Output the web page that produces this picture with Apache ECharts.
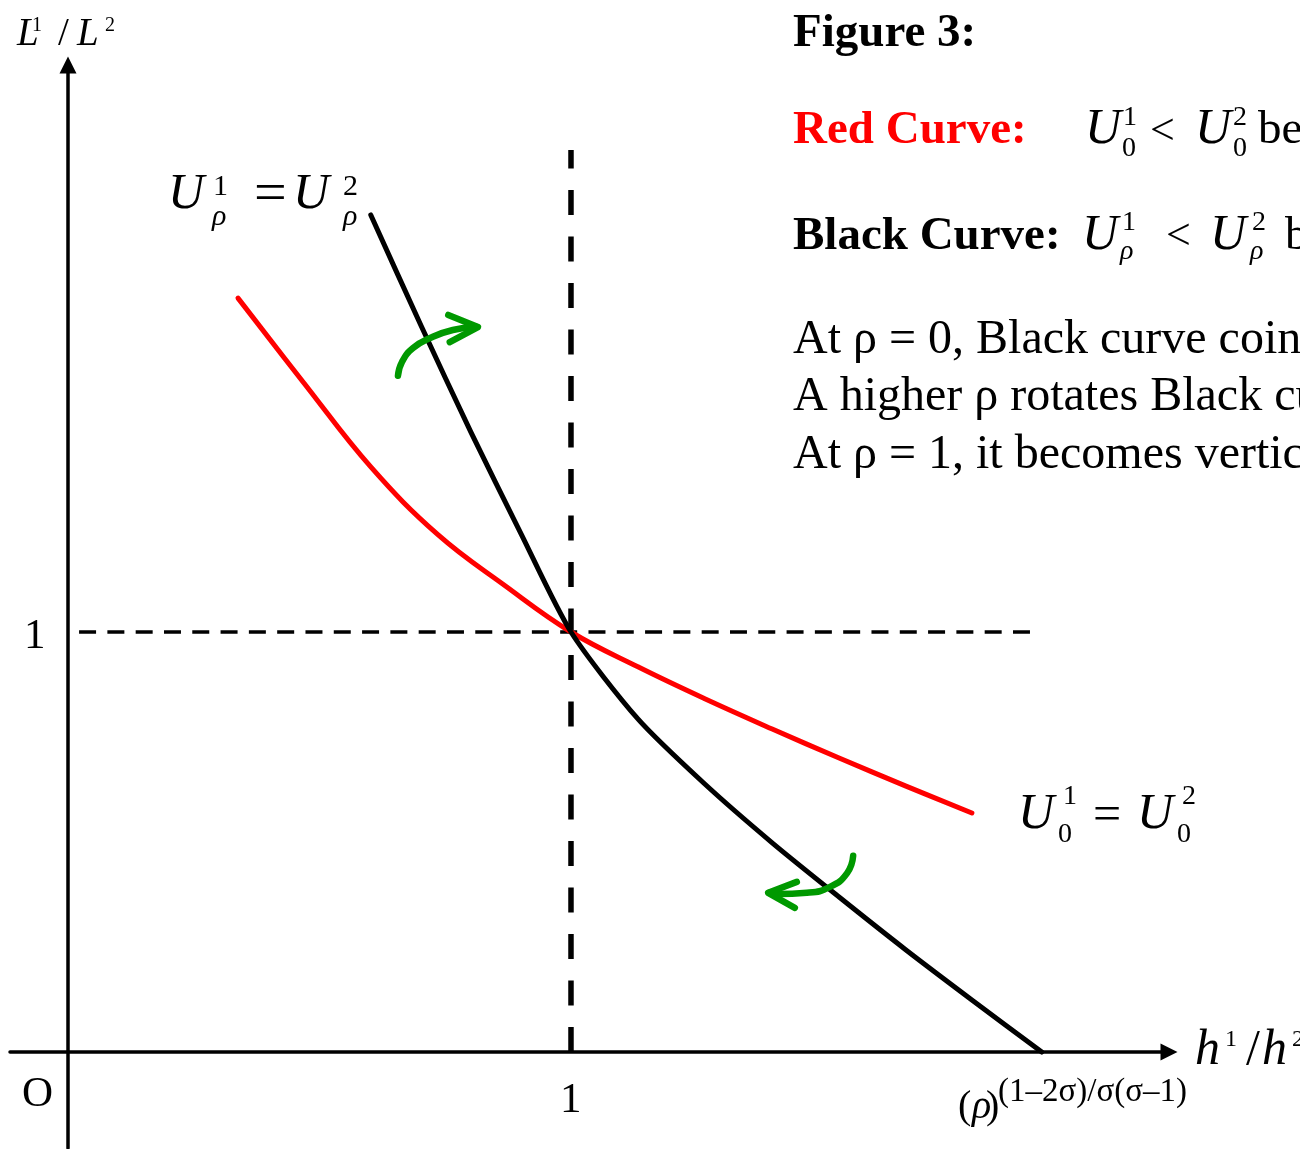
<!DOCTYPE html>
<html>
<head>
<meta charset="utf-8">
<script src="https://cdn.jsdelivr.net/npm/echarts@6/dist/echarts.min.js"></script>
<style>
  html, body { margin: 0; padding: 0; background: #fff; }
  #main { width: 1300px; height: 1149px; }
</style>
</head>
<body>
<div id="main"></div>
<script>
// Indifference loci in the (h1/h2, L1/L2) plane.
// Black: U^1_rho = U^2_rho
const blackX = [0.602, 0.702, 0.801, 0.901, 1.000, 1.133, 1.266, 1.400, 1.533, 1.666, 1.797, 1.936];
const blackY = [1.993, 1.729, 1.476, 1.233, 1.000, 0.793, 0.638, 0.498, 0.369, 0.243, 0.124, 0.000];
// Red: U^1_0 = U^2_0
const redX = [0.338, 0.469, 0.602, 0.736, 0.869, 1.000, 1.133, 1.266, 1.400, 1.533, 1.666, 1.797];
const redY = [1.795, 1.593, 1.393, 1.231, 1.110, 1.000, 0.917, 0.841, 0.769, 0.700, 0.633, 0.569];

// Reference lines through (1, 1)
const hRefX = [1.9125, 0];
const hRefY = [1, 1];
const vRefX = [1, 1];
const vRefY = [0, 2.1476];

// Green rotation arrows (shaft and head)
const arrowUpShaftX = [0.656, 0.664, 0.686, 0.720, 0.765, 0.813];
const arrowUpShaftY = [1.610, 1.643, 1.676, 1.700, 1.719, 1.726];
const arrowUpHeadX = [0.756, 0.815, 0.759];
const arrowUpHeadY = [1.755, 1.726, 1.690];
const arrowDownShaftX = [1.561, 1.549, 1.515, 1.469, 1.410, 1.394];
const arrowDownShaftY = [0.467, 0.426, 0.393, 0.379, 0.376, 0.379];
const arrowDownHeadX = [1.449, 1.392, 1.445];
const arrowDownHeadY = [0.405, 0.379, 0.343];

const SERIF = '"Liberation Serif", "Times New Roman", serif';

function pairs(xs, ys) { return xs.map((x, i) => [x, ys[i]]); }

function lineSeries(xs, ys, color, width, extra) {
  return Object.assign({
    type: 'line',
    data: pairs(xs, ys),
    symbol: 'none',
    silent: true,
    animation: false,
    lineStyle: { color: color, width: width, cap: 'round', join: 'round' }
  }, extra || {});
}

function txt(text, x, y, size, opts) {
  opts = opts || {};
  return {
    type: 'text',
    x: x, y: y,
    silent: true,
    style: {
      text: text,
      font: (opts.italic ? 'italic ' : '') + (opts.bold ? 'bold ' : '') + size + 'px ' + SERIF,
      fill: opts.color || '#000',
      align: 'left',
      verticalAlign: 'middle'
    }
  };
}

const texts = [
  // axis titles
  txt('L', 17, 35, 39, { italic: true }),
  txt('1', 32, 26, 20),
  txt('/', 58, 35, 39),
  txt('L', 77, 35, 39, { italic: true }),
  txt('2', 105, 26, 20),

  txt('h', 1195, 1051, 50, { italic: true }),
  txt('1', 1225, 1040, 24),
  txt('/', 1246, 1051, 50),
  txt('h', 1262, 1051, 50, { italic: true }),
  txt('2', 1292, 1040, 24),

  // tick labels
  txt('O', 22, 1095, 43),
  txt('1', 560, 1101, 43),
  txt('1', 24, 637, 43),

  // intercept of the black curve
  txt('(', 958, 1107, 40),
  txt('ρ', 972, 1107, 40, { italic: true }),
  txt(')', 986, 1107, 40),
  txt('(1–2σ)/σ(σ–1)', 998, 1092, 33),

  // curve labels
  txt('U', 168, 195, 50, { italic: true }),
  txt('1', 213, 187, 30),
  txt('ρ', 212, 217, 30, { italic: true }),
  txt('=', 254, 196, 58),
  txt('U', 293, 195, 50, { italic: true }),
  txt('2', 343, 187, 30),
  txt('ρ', 343, 217, 30, { italic: true }),

  txt('U', 1018, 815, 50, { italic: true }),
  txt('1', 1063, 797, 28),
  txt('0', 1058, 835, 28),
  txt('=', 1093, 817, 50),
  txt('U', 1137, 815, 50, { italic: true }),
  txt('2', 1182, 797, 28),
  txt('0', 1177, 835, 28),

  // notes
  txt('Figure 3:', 793, 34, 47, { bold: true }),
  txt('Red Curve:', 793, 131, 47, { bold: true, color: '#ff0000' }),
  txt('U', 1085, 130, 50, { italic: true }),
  txt('1', 1123, 118, 28),
  txt('0', 1122, 149, 28),
  txt('<', 1150, 132, 44),
  txt('U', 1195, 130, 50, { italic: true }),
  txt('2', 1233, 118, 28),
  txt('0', 1233, 149, 28),
  txt('be', 1258, 131, 47),

  txt('Black Curve:', 793, 237, 47, { bold: true }),
  txt('U', 1082, 236, 50, { italic: true }),
  txt('1', 1122, 223, 28),
  txt('ρ', 1120, 252, 28, { italic: true }),
  txt('<', 1166, 237, 44),
  txt('U', 1210, 236, 50, { italic: true }),
  txt('2', 1252, 223, 28),
  txt('ρ', 1250, 252, 28, { italic: true }),
  txt('b', 1285, 237, 47),

  txt('At ρ = 0, Black curve coin', 793, 340, 48),
  txt('A higher ρ rotates Black cu', 793, 397, 48),
  txt('At ρ = 1, it becomes vertic', 793, 455, 48)
];

const chart = echarts.init(document.getElementById('main'), null, { renderer: 'canvas' });

const axisCommon = {
  type: 'value',
  axisLine: {
    show: true,
    onZero: true,
    symbol: ['none', 'triangle'],
    symbolSize: [17, 17],
    lineStyle: { color: '#000', width: 3.5 }
  },
  axisTick: { show: false },
  axisLabel: { show: false },
  splitLine: { show: false }
};

chart.setOption({
  backgroundColor: '#fff',
  animation: false,
  grid: { left: 10, right: 131, top: 65, bottom: 1, containLabel: false },
  xAxis: Object.assign({}, axisCommon, { min: -0.1153, max: 2.1889 }),
  yAxis: Object.assign({}, axisCommon, { min: -0.2286, max: 2.35 }),
  series: [
    lineSeries(hRefX, hRefY, '#000', 3.5, { lineStyle: { color: '#000', width: 3.5, type: [17, 11.3], cap: 'butt' } }),
    lineSeries(vRefX, vRefY, '#000', 5.5, { lineStyle: { color: '#000', width: 5.5, type: [25, 21.5], cap: 'butt' } }),
    lineSeries(redX, redY, '#ff0000', 5, { smooth: 0.4 }),
    lineSeries(blackX, blackY, '#000', 5, { smooth: 0.25 }),
    lineSeries(arrowUpShaftX, arrowUpShaftY, '#009900', 6.5, { smooth: 0.5 }),
    lineSeries(arrowUpHeadX, arrowUpHeadY, '#009900', 6.5),
    lineSeries(arrowDownShaftX, arrowDownShaftY, '#009900', 6.5, { smooth: 0.5 }),
    lineSeries(arrowDownHeadX, arrowDownHeadY, '#009900', 6.5)
  ],
  graphic: texts
});
</script>
</body>
</html>
